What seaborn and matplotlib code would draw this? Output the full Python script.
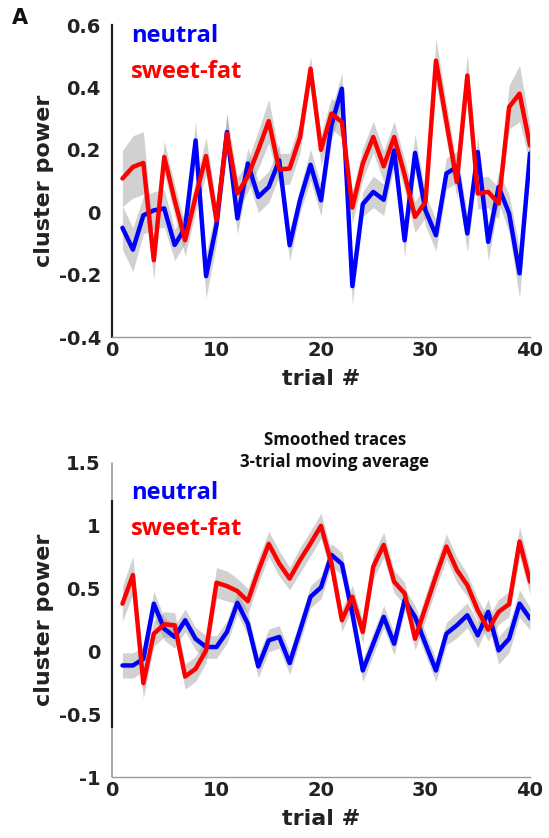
import numpy as np
import pandas as pd
import matplotlib
matplotlib.use("Agg")
import matplotlib.pyplot as plt
import seaborn as sns

# ---------------- data ----------------
trials = list(range(1, 41))

raw_neutral = [-0.05, -0.12, -0.01, 0.006, 0.012, -0.105, -0.05, 0.23, -0.205, -0.04,
               0.257, -0.02, 0.156, 0.049, 0.081, 0.166, -0.106, 0.04, 0.152, 0.038,
               0.28, 0.396, -0.237, 0.026, 0.065, 0.04, 0.198, -0.09, 0.19, 0.006,
               -0.074, 0.124, 0.145, -0.068, 0.193, -0.095, 0.081, -0.004, -0.196, 0.188]
raw_neutral_sem = [0.07, 0.07, 0.06, 0.06, 0.06, 0.05, 0.05, 0.06, 0.07, 0.06,
                   0.06, 0.05, 0.05, 0.05, 0.05, 0.05, 0.05, 0.04, 0.05, 0.05,
                   0.05, 0.05, 0.06, 0.04, 0.05, 0.05, 0.05, 0.05, 0.06, 0.05,
                   0.05, 0.05, 0.05, 0.06, 0.05, 0.06, 0.05, 0.06, 0.08, 0.05]

raw_sweetfat = [0.108, 0.145, 0.158, -0.154, 0.177, 0.038, -0.09, 0.05, 0.18, -0.026,
                0.252, 0.06, 0.115, 0.2, 0.292, 0.137, 0.14, 0.241, 0.46, 0.2,
                0.316, 0.289, 0.015, 0.156, 0.241, 0.147, 0.241, 0.12, -0.015, 0.033,
                0.486, 0.29, 0.097, 0.438, 0.06, 0.065, 0.028, 0.337, 0.38, 0.214]
raw_sweetfat_sem = [0.09, 0.10, 0.10, 0.06, 0.05, 0.05, 0.05, 0.05, 0.06, 0.05,
                    0.06, 0.05, 0.05, 0.06, 0.07, 0.05, 0.05, 0.05, 0.04, 0.05,
                    0.05, 0.05, 0.05, 0.05, 0.05, 0.05, 0.05, 0.05, 0.05, 0.05,
                    0.07, 0.06, 0.05, 0.07, 0.05, 0.05, 0.05, 0.07, 0.09, 0.06]

smooth_neutral = [-0.112, -0.112, -0.06, 0.38, 0.18, 0.115, 0.248, 0.1, 0.035, 0.035,
                  0.155, 0.387, 0.22, -0.12, 0.088, 0.115, -0.093, 0.168, 0.435, 0.51,
                  0.768, 0.696, 0.3, -0.152, 0.061, 0.275, 0.061, 0.408, 0.275, 0.06,
                  -0.152, 0.141, 0.208, 0.288, 0.128, 0.315, 0.008, 0.101, 0.38, 0.261]
smooth_neutral_sem = [0.10, 0.10, 0.10, 0.10, 0.09, 0.09, 0.09, 0.09, 0.09, 0.09,
                      0.09, 0.09, 0.09, 0.09, 0.09, 0.09, 0.09, 0.09, 0.09, 0.09,
                      0.09, 0.09, 0.10, 0.09, 0.09, 0.09, 0.09, 0.09, 0.09, 0.09,
                      0.09, 0.09, 0.10, 0.10, 0.10, 0.10, 0.11, 0.11, 0.11, 0.09]

smooth_sweetfat = [0.38, 0.608, -0.253, 0.141, 0.216, 0.208, -0.2, -0.139, 0.008, 0.547,
                   0.52, 0.48, 0.4, 0.64, 0.856, 0.7, 0.58, 0.728, 0.86, 1.0,
                   0.7, 0.248, 0.435, 0.155, 0.675, 0.848, 0.555, 0.461, 0.101, 0.35,
                   0.6, 0.835, 0.648, 0.528, 0.328, 0.173, 0.315, 0.376, 0.875, 0.555]
smooth_sweetfat_sem = [0.14, 0.15, 0.12, 0.10, 0.10, 0.10, 0.10, 0.10, 0.10, 0.12,
                       0.12, 0.10, 0.10, 0.10, 0.10, 0.10, 0.09, 0.10, 0.10, 0.10,
                       0.10, 0.09, 0.09, 0.09, 0.10, 0.10, 0.09, 0.09, 0.09, 0.10,
                       0.10, 0.10, 0.10, 0.09, 0.09, 0.09, 0.10, 0.10, 0.12, 0.10]

top_yticks = [-0.4, -0.2, 0, 0.2, 0.4, 0.6]
top_yticklabels = ["-0.4", "-0.2", "0", "0.2", "0.4", "0.6"]
bot_yticks = [-1, -0.5, 0, 0.5, 1, 1.5]
bot_yticklabels = ["-1", "-0.5", "0", "0.5", "1", "1.5"]
xticks = [0, 10, 20, 30, 40]
cond_names = ["neutral", "sweet-fat"]
cond_colors = {"neutral": "#0000ff", "sweet-fat": "#ff0000"}

# ---------------- figure ----------------
sns.set_style("white")
plt.rcParams['font.family'] = ['DejaVu Sans']

W, H = 549, 838
fig = plt.figure(figsize=(W / 100, H / 100), dpi=100)
ax1 = fig.add_axes([112 / W, 1 - 337 / H, (530 - 112) / W, (337 - 25) / H])
ax2 = fig.add_axes([112 / W, 1 - 777 / H, (530 - 112) / W, (777 - 463) / H])


def draw(ax, neu, neu_sem, sf, sf_sem, ylim, yticks, yticklabels, leg_y):
    t = np.array(trials)
    for vals, sem in [(neu, neu_sem), (sf, sf_sem)]:
        v = np.array(vals); s = np.array(sem)
        ax.fill_between(t, v - s, v + s, color="0.6", alpha=0.45, lw=0, zorder=1)
    df = pd.DataFrame({
        "trial": trials * 2,
        "power": list(neu) + list(sf),
        "cond": ["neutral"] * len(trials) + ["sweet-fat"] * len(trials),
    })
    sns.lineplot(data=df, x="trial", y="power", hue="cond", palette=cond_colors,
                 hue_order=cond_names, lw=3.2, ax=ax, legend=False, zorder=3,
                 estimator=None)
    ax.set_xlim(0, 40)
    ax.set_ylim(*ylim)
    ax.set_xticks(xticks)
    ax.set_xticklabels([str(x) for x in xticks])
    ax.set_yticks(yticks)
    ax.set_yticklabels(yticklabels)
    for lab in ax.get_xticklabels() + ax.get_yticklabels():
        lab.set_fontweight("bold")
        lab.set_fontsize(14)
        lab.set_color("#222222")
    ax.tick_params(axis="y", direction="out", length=3, width=0.8, colors="#444444",
                   labelcolor="#222222", pad=5)
    ax.tick_params(axis="x", direction="in", length=4, width=0.8, colors="#888888",
                   labelcolor="#222222", pad=3)
    ax.spines["top"].set_visible(False)
    ax.spines["right"].set_visible(False)
    ax.spines["left"].set_color("#222222")
    ax.spines["left"].set_linewidth(1.6)
    ax.spines["bottom"].set_color("#999999")
    ax.spines["bottom"].set_linewidth(1.0)
    ax.set_xlabel("trial #", fontsize=16, fontweight="bold", color="#222222", labelpad=6)
    ax.set_ylabel("cluster power", fontsize=16, fontweight="bold", color="#222222", labelpad=3)
    ax.text(0.045, leg_y[0], "neutral", transform=ax.transAxes, color="#0000ff",
            fontsize=17, fontweight="bold", family=["Open Sans", "DejaVu Sans"],
            va="center", ha="left")
    ax.text(0.045, leg_y[1], "sweet-fat", transform=ax.transAxes, color="#ff0000",
            fontsize=17, fontweight="bold", family=["Open Sans", "DejaVu Sans"],
            va="center", ha="left")


draw(ax1, raw_neutral, raw_neutral_sem, raw_sweetfat, raw_sweetfat_sem,
     (-0.4, 0.6), top_yticks, top_yticklabels, (0.965, 0.85))
draw(ax2, smooth_neutral, smooth_neutral_sem, smooth_sweetfat, smooth_sweetfat_sem,
     (-1, 1.5), bot_yticks, bot_yticklabels, (0.905, 0.79))

# bottom panel: thin grey full-height axis with a thicker dark middle stretch
ax2.spines["left"].set_bounds(-0.6, 1.2)
ax2.axvline(0, color="#999999", lw=1.2, zorder=0, clip_on=False)

fig.text(335 / W, 1 - 451 / H, "Smoothed traces\n3-trial moving average",
         ha="center", va="center", fontsize=12.2, fontweight="bold",
         family=["Open Sans", "DejaVu Sans"], color="#111111", linespacing=1.25)

fig.text(12 / W, 1 - 18 / H, "A", ha="left", va="center", fontsize=15,
         fontweight="bold", color="#111111")

fig.savefig("out.png", dpi=100)
